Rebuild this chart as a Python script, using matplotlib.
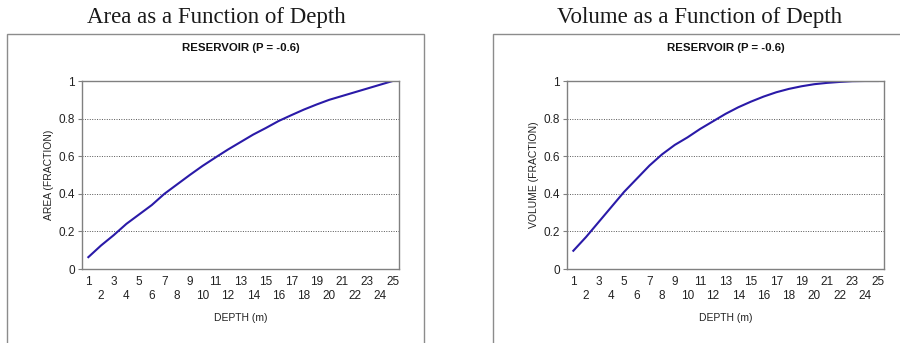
import matplotlib.pyplot as plt
from matplotlib.patches import Rectangle

# depth categories (m)
depth = list(range(1, 26))

# area fraction per depth
area = [0.063, 0.125, 0.18, 0.24, 0.29, 0.34, 0.40, 0.45, 0.50, 0.548,
        0.592, 0.635, 0.675, 0.715, 0.75, 0.787, 0.818, 0.848, 0.875, 0.90,
        0.92, 0.94, 0.96, 0.98, 1.0]

# volume fraction per depth
volume = [0.097, 0.17, 0.25, 0.33, 0.41, 0.48, 0.55, 0.61, 0.66, 0.70,
          0.745, 0.785, 0.825, 0.86, 0.89, 0.917, 0.94, 0.958, 0.972, 0.983,
          0.99, 0.995, 0.999, 1.0, 1.0]

panel_titles = ['Area as a Function of Depth', 'Volume as a Function of Depth']
y_labels = ['AREA (FRACTION)', 'VOLUME (FRACTION)']
subtitle = 'RESERVOIR (P = -0.6)'

W, H = 900, 343
fig = plt.figure(figsize=(W / 100, H / 100), dpi=100)
plt.rcParams['font.family'] = ['Liberation Sans', 'DejaVu Sans']

line_color = '#2a1aa8'
frame_gray = '#808080'
text_color = '#222222'

def fx(px):
    return px / W

def fy(py):
    return 1 - py / H

# outer chart boxes
for x0, x1 in [(7, 424), (493, 905)]:
    fig.add_artist(Rectangle((fx(x0), fy(345)), fx(x1 - x0), (345 - 34) / H,
                             transform=fig.transFigure, fill=False,
                             edgecolor='#8c8c8c', linewidth=1.0))

panels = [(82, 399, area, 216), (567, 884, volume, 700)]
for k, (left, right, values, title_x) in enumerate(panels):
    ax = fig.add_axes([fx(left), fy(269), fx(right - left), (269 - 81) / H])
    ax.plot(depth, values, color=line_color, linewidth=1.5)
    ax.set_xlim(0.5, 25.5)
    ax.set_ylim(0, 1)
    ax.set_yticks([0, 0.2, 0.4, 0.6, 0.8, 1])
    ax.set_yticklabels(['0', '0.2', '0.4', '0.6', '0.8', '1'])
    ax.set_xticks(depth)
    ax.set_xticklabels([str(d) if d % 2 else '\n' + str(d) for d in depth],
                       linespacing=1.2)
    ax.tick_params(axis='x', length=0, labelsize=8.5, pad=5, labelcolor=text_color)
    ax.tick_params(axis='y', length=3, width=0.8, color=frame_gray,
                   labelsize=8.5, pad=2, labelcolor=text_color)
    for s in ax.spines.values():
        s.set_color(frame_gray)
        s.set_linewidth(1.0)
    for yv in [0.2, 0.4, 0.6, 0.8]:
        ax.axhline(yv, color='#555555', linestyle=(0, (1, 1.5)), linewidth=0.7,
                   zorder=0)
    ax.set_xlabel('DEPTH (m)', fontsize=7.5, labelpad=8, color=text_color)
    ax.set_ylabel(y_labels[k], fontsize=7.5, labelpad=3, color=text_color)
    fig.text((fx(left) + fx(right)) / 2, fy(48), subtitle, ha='center',
             va='center', fontsize=8.2, fontweight='bold', color='#111111')
    fig.text(fx(title_x), fy(17), panel_titles[k], ha='center', va='center',
             fontsize=16.5, family='Liberation Serif', color='#1a1a1a')

fig.savefig('out.png', dpi=100)
